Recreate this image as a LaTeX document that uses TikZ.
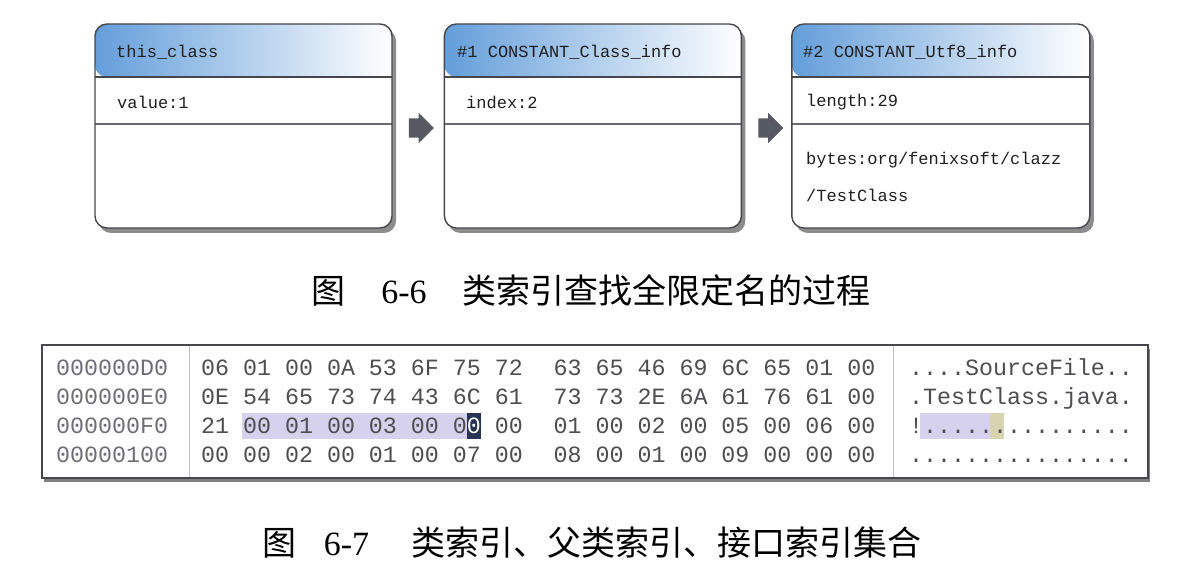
\documentclass[tikz,border=0pt]{standalone}
\usepackage{fontspec}
\setmainfont{Liberation Serif}
\setmonofont{Liberation Mono}
\newfontfamily\cjk{Noto Sans CJK SC}
\usetikzlibrary{shapes}
\usetikzlibrary{shapes.arrows}
\usetikzlibrary{shadows}
\usetikzlibrary{positioning}
\definecolor{hdrblue}{RGB}{100,158,218}
\definecolor{boxline}{RGB}{70,70,76}
\definecolor{hexgray}{RGB}{78,78,80}
\definecolor{addrgray}{RGB}{110,110,118}
\definecolor{selback}{RGB}{214,210,238}
\definecolor{selcur}{RGB}{40,52,84}
\definecolor{selend}{RGB}{216,212,178}
\definecolor{arrgray}{RGB}{86,88,98}
\tikzset{
	clsbox/.style = {rectangle, rounded corners=12pt, draw=boxline, line width=1.4pt,
		fill=white, minimum width=297pt, minimum height=204pt,
		drop shadow={shadow xshift=4pt, shadow yshift=-5pt, fill=black, opacity=0.45},
		path picture={
			\shade[left color=hdrblue, middle color=hdrblue!45, right color=white]
				(path picture bounding box.north west) rectangle
				([yshift=-53pt]path picture bounding box.north east);
			\draw[boxline, line width=1.4pt]
				([yshift=-53pt]path picture bounding box.north west) --
				([yshift=-53pt]path picture bounding box.north east);
			\draw[boxline!80, line width=1.4pt]
				([yshift=-100pt]path picture bounding box.north west) --
				([yshift=-100pt]path picture bounding box.north east);
		}},% boite d'une entree du pool
	fieldtxt/.style = {inner sep=0pt, anchor=west, text=black!88,
		font=\ttfamily\fontsize{17}{20}\selectfont},% texte des champs
	blkarrow/.style = {single arrow, fill=arrgray, draw=none, inner xsep=0pt,
		inner ysep=9.5pt, minimum height=25pt, single arrow head extend=5.5pt},% fleche pleine
	hexframe/.style = {rectangle, draw=boxline, line width=1.4pt, fill=white,
		minimum width=1106pt, minimum height=133pt,
		drop shadow={shadow xshift=2pt, shadow yshift=-4pt, fill=black, opacity=0.5}},% cadre hexa
	hextxt/.style = {inner sep=0pt, anchor=base west, text=hexgray,
		font=\ttfamily\fontsize{23.3}{28}\selectfont},% octets
	addrtxt/.style = {hextxt, text=addrgray},% adresses
	captxt/.style = {inner sep=0pt, text=black, font=\fontsize{34}{40}\selectfont}% legende
}

\begin{document}
\begin{tikzpicture}[x=1pt, y=-1pt]
	\useasboundingbox[fill=white] (0,0) rectangle (1186,572);
	% figure 6-6
	\node [clsbox] (b1) at (243.5,126) {};
	\node [clsbox, right=51pt of b1] (b2) {};
	\node [clsbox, right=49pt of b2, minimum width=298pt] (b3) {};
	\node [blkarrow, right=16pt of b1, yshift=-2pt] (a1) {};
	\node [blkarrow, right=16pt of b2, yshift=-2pt] (a2) {};
	\node [fieldtxt] (b1h) at (116,52) {this\_class};
	\node [fieldtxt] (b1v) at (117,102) {value:1};
	\node [fieldtxt] (b2h) at (457,52) {\#1 CONSTANT\_Class\_info};
	\node [fieldtxt] (b2i) at (466,102) {index:2};
	\node [fieldtxt] (b3h) at (803,52) {\#2 CONSTANT\_Utf8\_info};
	\node [fieldtxt] (b3l) at (806,102) {length:29};
	\node [fieldtxt] (b3b) at (806,160) {bytes:org/fenixsoft/clazz};
	\node [fieldtxt] (b3c) at (806,195) {/TestClass};
	\node [captxt] (cap1) at (591,290)
		{{\cjk 图}\hspace{36pt}6-6\hspace{36pt}{\cjk 类索引查找全限定名的过程}};
	% figure 6-7
	\node [hexframe] (hex) at (595,411.5) {};
	\draw [black!25, line width=1pt] (189,346) -- (189,477);
	\draw [black!25, line width=1pt] (893,346) -- (893,477);
	\fill [selback] (242,413) rectangle (466.6,439);
	\fill [selcur] (466.6,413) rectangle (480.6,439);
	\fill [selback] (920,413) rectangle (990,439);
	\fill [selend] (990,413) rectangle (1004,439);
	\node [addrtxt] (ad1) at (56,375) {000000D0};
	\node [addrtxt] (ad2) at (56,404) {000000E0};
	\node [addrtxt] (ad3) at (56,433) {000000F0};
	\node [addrtxt] (ad4) at (56,462) {00000100};
	\node [hextxt] (hl1) at (201,375) {06 01 00 0A 53 6F 75 72};
	\node [hextxt] (hl2) at (201,404) {0E 54 65 73 74 43 6C 61};
	\node [hextxt] (hl3) at (201,433) {21 00 01 00 03 00 0};
	\node [hextxt, text=white] (cur) at (466.6,433) {0};
	\node [hextxt] (hl3b) at (494.6,433) {00};
	\node [hextxt] (hl4) at (201,462) {00 00 02 00 01 00 07 00};
	\node [hextxt] (hr1) at (553.5,375) {63 65 46 69 6C 65 01 00};
	\node [hextxt] (hr2) at (553.5,404) {73 73 2E 6A 61 76 61 00};
	\node [hextxt] (hr3) at (553.5,433) {01 00 02 00 05 00 06 00};
	\node [hextxt] (hr4) at (553.5,462) {08 00 01 00 09 00 00 00};
	\node [hextxt] (as1) at (909,375) {....SourceFile..};
	\node [hextxt] (as2) at (909,404) {.TestClass.java.};
	\node [hextxt] (as3) at (909,433) {!...............};
	\node [hextxt] (as4) at (909,462) {................};
	\node [captxt] (cap2) at (592,543)
		{{\cjk 图}\hspace{27pt}6-7\hspace{42pt}{\cjk 类索引、父类索引、接口索引集合}};
\end{tikzpicture}
\end{document}
